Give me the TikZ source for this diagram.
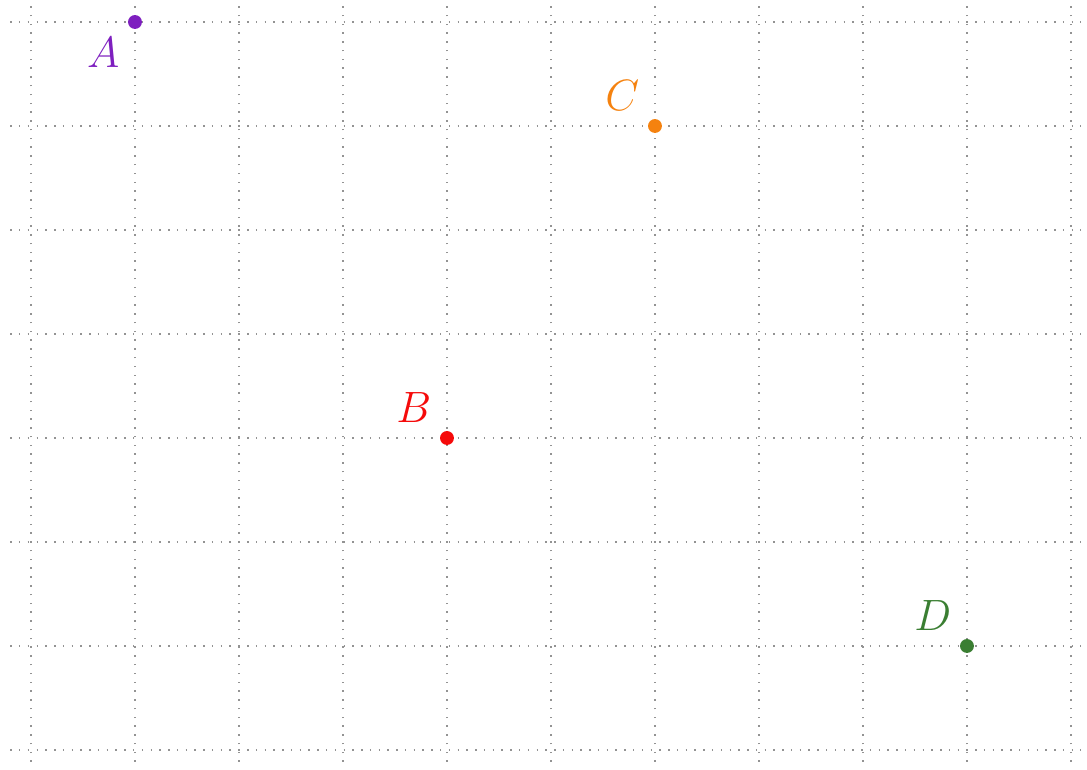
\documentclass[tikz,border=0pt]{standalone}
\usepackage{xcolor}
\definecolor{cA}{HTML}{7E1FBF}
\definecolor{cB}{HTML}{F50A0A}
\definecolor{cC}{HTML}{F5820F}
\definecolor{cD}{HTML}{3A7E32}
\begin{document}
\begin{tikzpicture}[x=1cm,y=1cm,
  gridline/.style={gray!85,dotted,line width=0.4pt},
  pt/.style={circle,fill=#1,inner sep=0pt,minimum size=3.8pt},
  lbl/.style={text=#1,font=\large}]
\useasboundingbox (-0.298,-0.183) rectangle (10.154,7.2115);
\foreach \y in {0,...,7} \draw[gridline] (-0.2,\y) -- (10.1,\y);
\foreach \x in {0,...,10} \draw[gridline] (\x,-0.115) -- (\x,7.15);
\node[pt=cA,label={[lbl=cA,label distance=-1pt]below left:$A$}] (A) at (1,7) {};
\node[pt=cB,label={[lbl=cB,label distance=-1pt]above left:$B$}] (B) at (4,3) {};
\node[pt=cC,label={[lbl=cC,label distance=-1pt]above left:$C$}] (C) at (6,6) {};
\node[pt=cD,label={[lbl=cD,label distance=-1pt]above left:$D$}] (D) at (9,1) {};
\end{tikzpicture}
\end{document}
